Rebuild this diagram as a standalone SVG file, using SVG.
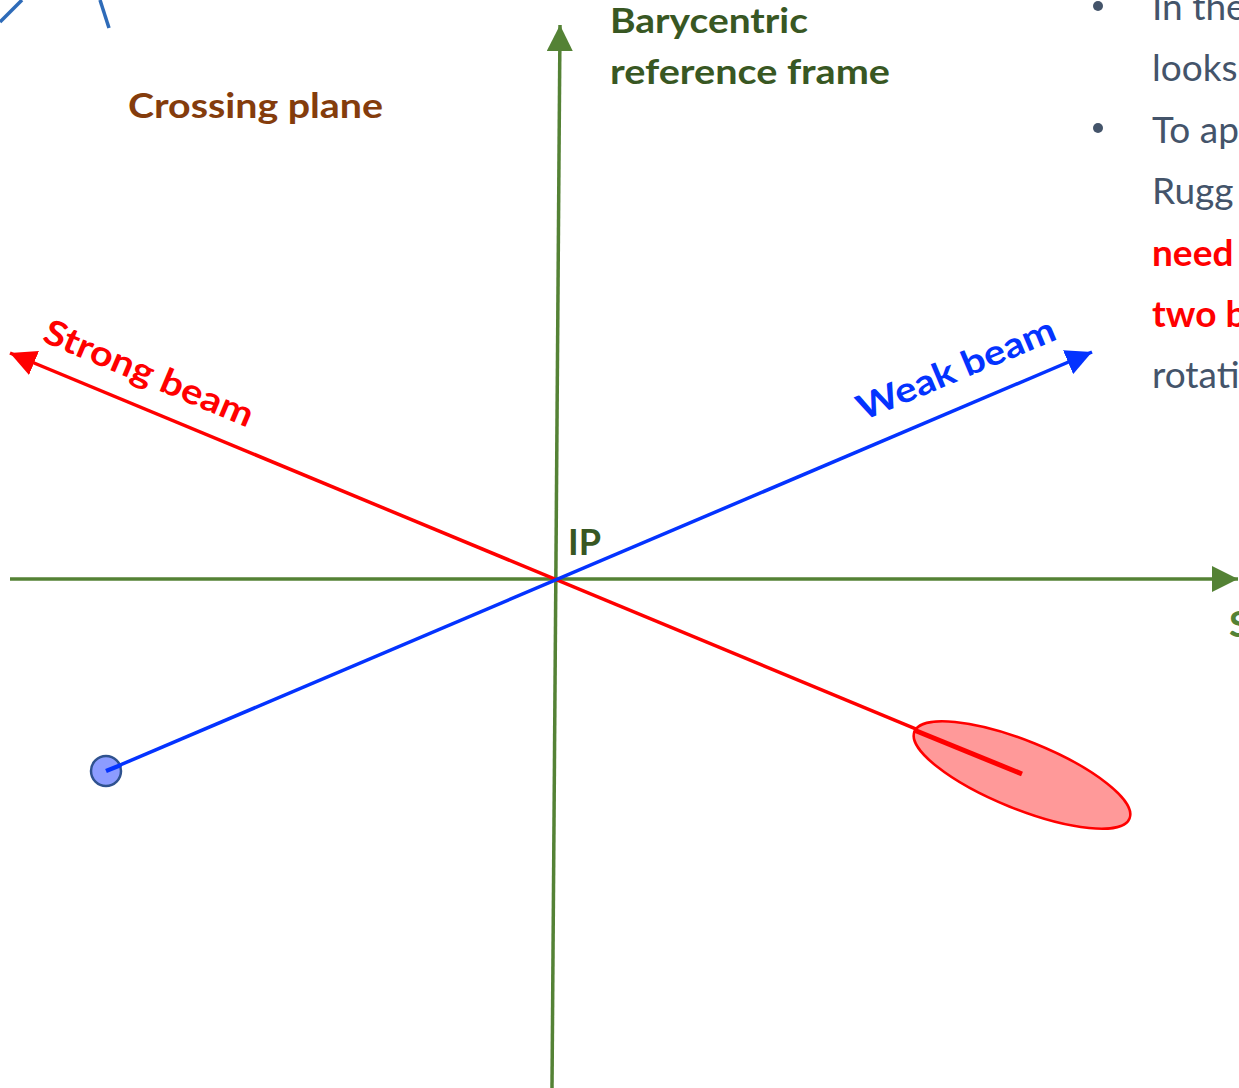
<svg xmlns="http://www.w3.org/2000/svg" width="1239" height="1088" viewBox="0 0 1239 1088">
<style>
.lbl{font-family:Lato,"Open Sans","Liberation Sans",sans-serif;font-weight:700}
.body{font-family:Lato,"Open Sans","Liberation Sans",sans-serif;font-size:37px;fill:#44546A}
.red{fill:#FF0000;font-weight:700}
.axis{stroke:#548235;stroke-width:3.5;fill:none}
</style>
<defs>
<marker id="arrG" viewBox="0 0 26 26" refX="26" refY="13" markerWidth="26" markerHeight="26" markerUnits="userSpaceOnUse" orient="auto"><path d="M0,0 L26,13 L0,26 z" fill="#548235"/></marker>
<marker id="arrR" viewBox="0 0 26 26" refX="26" refY="13" markerWidth="26" markerHeight="26" markerUnits="userSpaceOnUse" orient="auto"><path d="M0,0 L26,13 L0,26 z" fill="#FF0000"/></marker>
<marker id="arrB" viewBox="0 0 26 26" refX="26" refY="13" markerWidth="26" markerHeight="26" markerUnits="userSpaceOnUse" orient="auto"><path d="M0,0 L26,13 L0,26 z" fill="#0433FF"/></marker>
</defs>
<rect width="1239" height="1088" fill="#FFFFFF"/>
<g id="corner-lines" stroke="#2E6BB8" stroke-width="3.5">
<line x1="0" y1="22" x2="22" y2="0"/>
<line x1="100" y1="0" x2="109" y2="28"/>
</g>
<g id="connectors">
<line id="s-axis" class="axis" x1="10" y1="579" x2="1238" y2="579" marker-end="url(#arrG)"/>
<line id="v-axis" class="axis" x1="552" y1="1088" x2="560" y2="25" marker-end="url(#arrG)"/>
<line id="strong-line" x1="1022" y1="773" x2="10" y2="353" stroke="#FF0000" stroke-width="3.5" marker-end="url(#arrR)"/>
<line id="weak-line" x1="106" y1="771" x2="1092" y2="352" stroke="#0433FF" stroke-width="3.5" marker-end="url(#arrB)"/>
</g>
<g id="strong-bunch">
<ellipse cx="1022" cy="775" rx="116" ry="34" transform="rotate(22 1022 775)" fill="#FF9999" stroke="#FF0000" stroke-width="2.5"/>
<line x1="914" y1="730" x2="1022" y2="774" stroke="#FF0000" stroke-width="5"/>
</g>
<g id="weak-bunch">
<circle cx="106" cy="771" r="15" fill="#8C9CFF" stroke="#2F528F" stroke-width="2.5"/>
<line x1="106" y1="771" x2="121" y2="765" stroke="#0433FF" stroke-width="4.5"/>
</g>
<g id="label-crossing"><text class="lbl" x="128" y="118" font-size="34" fill="#843C0C" textLength="255" lengthAdjust="spacingAndGlyphs">Crossing plane</text></g>
<g id="label-frame">
<text class="lbl" x="610" y="33" font-size="34" fill="#385723" textLength="198" lengthAdjust="spacingAndGlyphs">Barycentric</text>
<text class="lbl" x="610" y="84" font-size="34" fill="#385723" textLength="280" lengthAdjust="spacingAndGlyphs">reference frame</text>
</g>
<g id="label-ip"><text class="lbl" x="568" y="555" font-size="36" fill="#385723" textLength="33" lengthAdjust="spacingAndGlyphs">IP</text></g>
<g id="label-s"><text class="lbl" x="1229" y="637" font-size="37" fill="#548235">S</text></g>
<g id="label-strong"><text class="lbl" transform="translate(41 341) rotate(22.8)" font-size="35" fill="#FF0000" textLength="224" lengthAdjust="spacingAndGlyphs">Strong beam</text></g>
<g id="label-weak"><text class="lbl" transform="translate(863 421) rotate(-22.8)" font-size="35" fill="#0433FF" textLength="212" lengthAdjust="spacingAndGlyphs">Weak beam</text></g>
<g id="side-text">
<circle cx="1098" cy="6" r="5" fill="#44546A"/>
<circle cx="1098" cy="128" r="5" fill="#44546A"/>
<text class="body" x="1152" y="20">In the</text>
<text class="body" x="1152" y="81">looks</text>
<text class="body" x="1152" y="143">To ap</text>
<text class="body" x="1152" y="204">Rugg</text>
<text class="body red" x="1152" y="266">need</text>
<text class="body red" x="1152" y="327">two b</text>
<text class="body" x="1152" y="388">rotati</text>
</g>
</svg>
